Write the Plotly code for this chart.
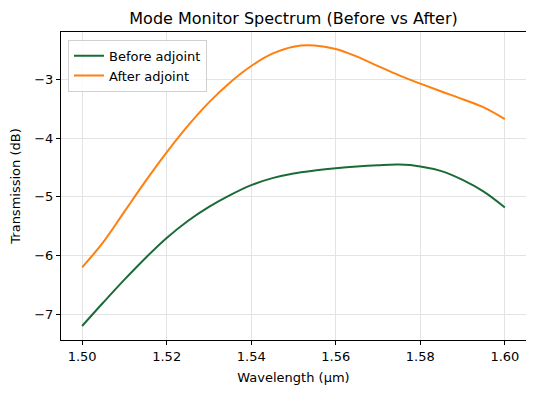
import plotly.graph_objects as go

wavelength = [1.500, 1.505, 1.510, 1.515, 1.520, 1.525, 1.530, 1.535, 1.540, 1.545,
              1.550, 1.555, 1.560, 1.565, 1.570, 1.575, 1.580, 1.585, 1.590, 1.595, 1.600]
before_adjoint = [-7.20, -6.80, -6.41, -6.04, -5.70, -5.41, -5.17, -4.97, -4.80, -4.68,
                  -4.60, -4.55, -4.51, -4.48, -4.46, -4.45, -4.48, -4.56, -4.71, -4.91, -5.18]
after_adjoint = [-6.20, -5.77, -5.25, -4.73, -4.24, -3.79, -3.39, -3.05, -2.77, -2.56,
                 -2.44, -2.42, -2.48, -2.61, -2.77, -2.93, -3.07, -3.205, -3.335, -3.475, -3.675]

x_ticks = [1.50, 1.52, 1.54, 1.56, 1.58, 1.60]
y_ticks = [-7, -6, -5, -4, -3]

font = "DejaVu Sans"

fig = go.Figure()
fig.add_trace(go.Scatter(x=wavelength, y=before_adjoint, mode="lines", name="Before adjoint",
                         line=dict(color="#1b6b38", width=2, shape="spline", smoothing=1.0)))
fig.add_trace(go.Scatter(x=wavelength, y=after_adjoint, mode="lines", name="After adjoint",
                         line=dict(color="#ff7f0e", width=2, shape="spline", smoothing=1.0)))

axis_common = dict(showline=True, linecolor="black", linewidth=1, mirror=True,
                   ticks="outside", ticklen=4, tickcolor="black", tickwidth=1,
                   showgrid=True, gridcolor="#e3e3e3", gridwidth=1, zeroline=False,
                   automargin=False,
                   tickfont=dict(family=font, size=13, color="black"))

fig.update_layout(
    width=534, height=393,
    margin=dict(l=53, r=16, t=24, b=61, autoexpand=False),
    paper_bgcolor="white", plot_bgcolor="white",
    font=dict(family=font, size=13, color="black"),
    title=dict(text="Mode Monitor Spectrum (Before vs After)", x=0.5, xref="paper",
               y=1 - 10 / 393, yref="container", yanchor="middle", automargin=False,
               font=dict(family=font, size=16, color="black")),
    xaxis=dict(range=[1.495, 1.605], tickvals=x_ticks, tickformat=".2f",
               title=dict(text="Wavelength (μm)", standoff=10,
                          font=dict(family=font, size=13, color="black")),
               **axis_common),
    yaxis=dict(range=[-7.4385, -2.19], tickvals=y_ticks,
               title=dict(text="Transmission (dB)", standoff=10,
                          font=dict(family=font, size=13, color="black")),
               **axis_common),
    legend=dict(x=0.015, y=0.975, xanchor="left", yanchor="top",
                bgcolor="rgba(255,255,255,0.8)", bordercolor="#d0d0d0", borderwidth=1,
                font=dict(family=font, size=13, color="black"),
                itemwidth=30, tracegroupgap=0),
    showlegend=True,
)

fig.write_html("out.html")
